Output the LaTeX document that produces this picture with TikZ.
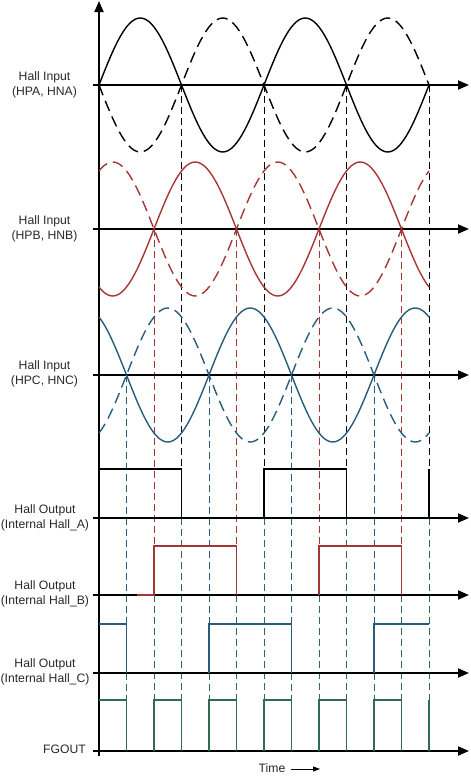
\documentclass[tikz,border=0pt]{standalone}
\usepackage{fontspec}
\setmainfont{Liberation Sans}
\usetikzlibrary{arrows.meta}
\definecolor{hallred}{RGB}{166,54,54}
\definecolor{hallblue}{RGB}{38,92,122}
\definecolor{hallgreen}{RGB}{46,110,78}
\definecolor{txt}{RGB}{40,40,40}
\begin{document}
\begin{tikzpicture}[x=1pt,y=-1pt,
  axisline/.style={line width=1.8pt, black},
  axisarrow/.style={axisline, -{Triangle[length=11pt,width=9pt]}},
  wave/.style={line width=1.4pt},
  dwave/.style={wave, dash pattern=on 11pt off 6pt},
  sq/.style={line width=1.8pt, line join=miter},
  guide/.style={line width=0.9pt, dash pattern=on 7pt off 4pt},
  lbl/.style={font=\fontsize{12.2}{15}\selectfont, align=center, text=txt}]
\useasboundingbox (0,0) rectangle (471,777);

% guide lines (signal colour above, green below)
\foreach \k/\c/\ys/\ye/\ya in {1/hallblue/375/624/673, 2/hallred/229/546/595, 3/black/85/469/518,
  4/hallblue/375/624/673, 5/hallred/229/546/595, 6/black/85/469/518,
  7/hallblue/375/624/673, 8/hallred/229/546/595, 9/black/85/469/518,
  10/hallblue/375/624/673, 11/hallred/229/546/595, 12/black/85/469/518}{
  \draw[guide,\c] ({99+27.5*\k},\ys) -- ({99+27.5*\k},\ye);
  \draw[guide,hallgreen] ({99+27.5*\k},\ya) -- ({99+27.5*\k},700);
}

% axes
\draw[axisarrow] (99,756) -- (99,1);
\foreach \y in {85,229,375,518,595,673,751}{
  \draw[axisarrow] (93,\y) -- (469,\y);
}

% square waves
\draw[sq,black] (99,469) -- (181.5,469) -- (181.5,518);
\draw[sq,black] (264,518) -- (264,469) -- (346.5,469) -- (346.5,518);
\draw[sq,black] (429,518) -- (429,469);

\draw[sq,hallred] (137,595) -- (154,595) -- (154,546) -- (236.5,546) -- (236.5,595);
\draw[sq,hallred] (319,595) -- (319,546) -- (401.5,546) -- (401.5,595);

\draw[sq,hallblue] (99,624) -- (126.5,624) -- (126.5,673);
\draw[sq,hallblue] (209,673) -- (209,624) -- (291.5,624) -- (291.5,673);
\draw[sq,hallblue] (374,673) -- (374,624) -- (429,624);

\draw[sq,hallgreen] (99,700) -- (126.5,700) -- (126.5,751);
\foreach \a in {154,209,264,319,374}{
  \draw[sq,hallgreen] (\a,751) -- (\a,700) -- ({\a+27.5},700) -- ({\a+27.5},751);
}
\draw[sq,hallgreen] (429,751) -- (429,700);

% sine waves
\draw[wave,black] plot[domain=0:720,samples=121,variable=\t] ({99+\t*0.4583333},{85-67*sin(\t)});
\draw[dwave,black] plot[domain=0:720,samples=121,variable=\t] ({99+\t*0.4583333},{85+67*sin(\t)});
\draw[wave,hallred] plot[domain=0:720,samples=121,variable=\t] ({99+\t*0.4583333},{229-67*sin(\t-120)});
\draw[dwave,hallred] plot[domain=0:720,samples=121,variable=\t] ({99+\t*0.4583333},{229+67*sin(\t-120)});
\draw[wave,hallblue] plot[domain=0:720,samples=121,variable=\t] ({99+\t*0.4583333},{375-67*sin(\t+120)});
\draw[dwave,hallblue] plot[domain=0:720,samples=121,variable=\t] ({99+\t*0.4583333},{375+67*sin(\t+120)});

% labels
\node[lbl] (la) at (44.5,85) {Hall Input\\(HPA, HNA)};
\node[lbl] (lb) at (44.5,229) {Hall Input\\(HPB, HNB)};
\node[lbl] (lc) at (44.5,374) {Hall Input\\(HPC, HNC)};
\node[lbl] (oa) at (45,518) {Hall Output\\(Internal Hall\_A)};
\node[lbl] (ob) at (45,594) {Hall Output\\(Internal Hall\_B)};
\node[lbl] (oc) at (45,671.5) {Hall Output\\(Internal Hall\_C)};
\node[lbl,anchor=east,inner sep=0pt] (fg) at (86,749) {FGOUT};
\node[lbl,inner sep=0pt] (time) at (272,768) {Time};
\coordinate (tend) at (320,769);
\draw[line width=0.8pt,-{Triangle[length=7pt,width=5pt]}] ([xshift=5pt]time.east |- tend) -- (tend);
\end{tikzpicture}
\end{document}
